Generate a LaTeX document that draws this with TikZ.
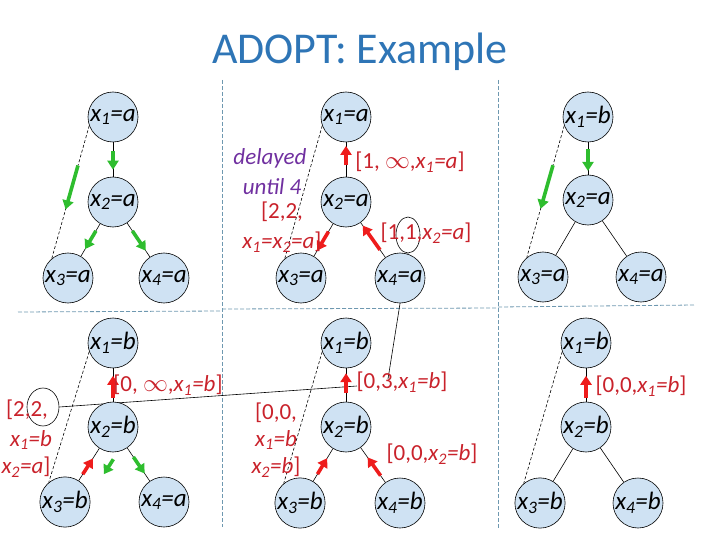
\documentclass[tikz,border=0pt]{standalone}
\usepackage{fontspec}
\setmainfont{Carlito}
\usetikzlibrary{arrows.meta,calc,shapes.geometric}
\definecolor{titleblue}{HTML}{2E75B6}
\definecolor{nodefill}{HTML}{CFE2F3}
\definecolor{msgred}{HTML}{EE1C1C}
\definecolor{labred}{HTML}{C9222B}
\definecolor{okgreen}{HTML}{2EBD2E}
\definecolor{delaypurple}{HTML}{7030A0}
\definecolor{sepblue}{HTML}{6E98B0}
\newcommand{\va}[2]{\textit{x\textsubscript{#1}=#2}}
\newcommand{\msg}[5]{\draw[#1] ($(#2)!#4!(#3)$) -- ($(#2)!#5!(#3)$);}

\begin{document}
\begin{tikzpicture}[x=1pt,y=-1pt,
  var/.style={circle,draw,line width=0.6pt,fill=nodefill,minimum size=50pt,inner sep=0pt,font=\fontsize{25}{25}\selectfont},
  ptr/.style={dashed,dash pattern=on 3pt off 2pt,line width=0.6pt},
  okmsg/.style={okgreen,line width=3.6pt,-{Triangle[length=9pt,width=11pt]}},
  costmsg/.style={msgred,line width=3.6pt,-{Triangle[length=9pt,width=11pt]}},
  lab/.style={labred,inner sep=0pt,font=\fontsize{23}{23}\selectfont},
  hilite/.style={ellipse,draw,line width=0.6pt,inner sep=0pt},
  sep/.style={sepblue,dash pattern=on 4pt off 2pt,line width=0.8pt}]
  \useasboundingbox (0,0) rectangle (720,540);
  \node[titleblue,font=\fontsize{44}{44}\selectfont] (title) at (360,52) {ADOPT: Example};
  \draw[sep] (222,80) -- (222,527);
  \draw[sep] (498,80) -- (498,528);
  \draw[sep] (18,312) -- (222,311);
  \draw[sep] (222,309) -- (498,308);
  \draw[sep] (498,307) -- (695,305);
  \node[hilite,minimum width=24pt,minimum height=36pt] (hl1) at (408,235) {};
  \node[hilite,minimum width=32pt,minimum height=38pt] (hl2) at (43,407) {};
  \coordinate (z3) at (388,379);
  \coordinate (z0) at (357,386);
  \draw[line width=0.6pt] (hl1.south) -- (z3);
  \draw[line width=0.6pt] (hl2.east) -- (z0);
  \node[var] (tl1) at (113,117) {\va{1}{a}};
  \node[var] (tl2) at (113,202) {\va{2}{a}};
  \node[var] (tl3) at (68,278) {\va{3}{a}};
  \node[var] (tl4) at (164,278) {\va{4}{a}};
  \node[var] (tm1) at (346,117) {\va{1}{a}};
  \node[var] (tm2) at (346,202) {\va{2}{a}};
  \node[var] (tm3) at (301,278) {\va{3}{a}};
  \node[var] (tm4) at (400,278) {\va{4}{a}};
  \node[var] (tr1) at (588,117) {\va{1}{b}};
  \node[var] (tr2) at (588,200) {\va{2}{a}};
  \node[var] (tr3) at (543,277) {\va{3}{a}};
  \node[var] (tr4) at (641,277) {\va{4}{a}};
  \node[var] (bl1) at (113,343) {\va{1}{b}};
  \node[var] (bl2) at (113,427) {\va{2}{b}};
  \node[var] (bl3) at (65,502) {\va{3}{b}};
  \node[var] (bl4) at (164,502) {\va{4}{a}};
  \node[var] (bm1) at (346,343) {\va{1}{b}};
  \node[var] (bm2) at (346,427) {\va{2}{b}};
  \node[var] (bm3) at (300,503) {\va{3}{b}};
  \node[var] (bm4) at (400,503) {\va{4}{b}};
  \node[var] (br1) at (586,343) {\va{1}{b}};
  \node[var] (br2) at (586,427) {\va{2}{b}};
  \node[var] (br3) at (540,503) {\va{3}{b}};
  \node[var] (br4) at (638,503) {\va{4}{b}};
  \foreach \t in {tl,tm,tr,bl,bm,br}{
    \draw[line width=0.6pt] (\t1) -- (\t2);
    \draw[line width=0.6pt] (\t2) -- (\t3);
    \draw[line width=0.6pt] (\t2) -- (\t4);
    \draw[ptr] (\t1.200) -- (\t3.130);
  }
  \msg{okmsg}{tl1}{tl2}{0.4}{0.62}
  \msg{okmsg}{tl1.200}{tl3.130}{0.3}{0.63}
  \msg{okmsg}{tl2}{tl3}{0.38}{0.62}
  \msg{okmsg}{tl2}{tl4}{0.38}{0.64}
  \msg{costmsg}{tm2}{tm1}{0.43}{0.66}
  \msg{costmsg}{tm2}{tm3}{0.39}{0.64}
  \msg{costmsg}{tm4}{tm2}{0.37}{0.69}
  \msg{okmsg}{tr1}{tr2}{0.39}{0.65}
  \msg{okmsg}{tr1.200}{tr3.130}{0.3}{0.63}
  \msg{costmsg}{bl2}{bl1}{0.35}{0.61}
  \msg{costmsg}{bl3}{bl2}{0.37}{0.58}
  \draw[okmsg] ($(bl2)!0.43!(bl3)+(21,0)$) -- ($(bl2)!0.63!(bl3)+(21,0)$);
  \msg{okmsg}{bl2}{bl4}{0.4}{0.62}
  \msg{costmsg}{bm2}{bm1}{0.41}{0.64}
  \msg{costmsg}{bm3}{bm2}{0.38}{0.59}
  \msg{costmsg}{bm4}{bm2}{0.36}{0.6}
  \msg{costmsg}{br2}{br1}{0.35}{0.61}
  \node[lab,delaypurple,font=\fontsize{23}{23}\selectfont\itshape] (dl1) at (270,158) {delayed};
  \node[lab,delaypurple,font=\fontsize{23}{23}\selectfont\itshape] (dl2) at (272,187) {until 4};
  \node[lab] (c1) at (282,212) {[2,2,};
  \node[lab] (c2) at (282,242) {\textit{x\textsubscript{1}=x\textsubscript{2}=a}]};
  \node[lab] (c3) at (410,162) {[1, $\infty$,\va{1}{a}]};
  \node[lab] (c4) at (426,233) {[1,1,\va{2}{a}]};
  \node[lab] (c5) at (168,385) {[0, $\infty$,\va{1}{b}]};
  \node[lab] (c6) at (27,410) {[2,2,};
  \node[lab] (c7) at (31,440) {\va{1}{b}};
  \node[lab] (c8) at (26,467) {\va{2}{a}]};
  \node[lab] (c9) at (402,382) {[0,3,\va{1}{b}]};
  \node[lab] (c10) at (276,413) {[0,0,};
  \node[lab] (c11) at (276,440) {\va{1}{b}};
  \node[lab] (c12) at (276,467) {\va{2}{b}]};
  \node[lab] (c13) at (432,454) {[0,0,\va{2}{b}]};
  \node[lab] (c14) at (641,386) {[0,0,\va{1}{b}]};
\end{tikzpicture}
\end{document}
